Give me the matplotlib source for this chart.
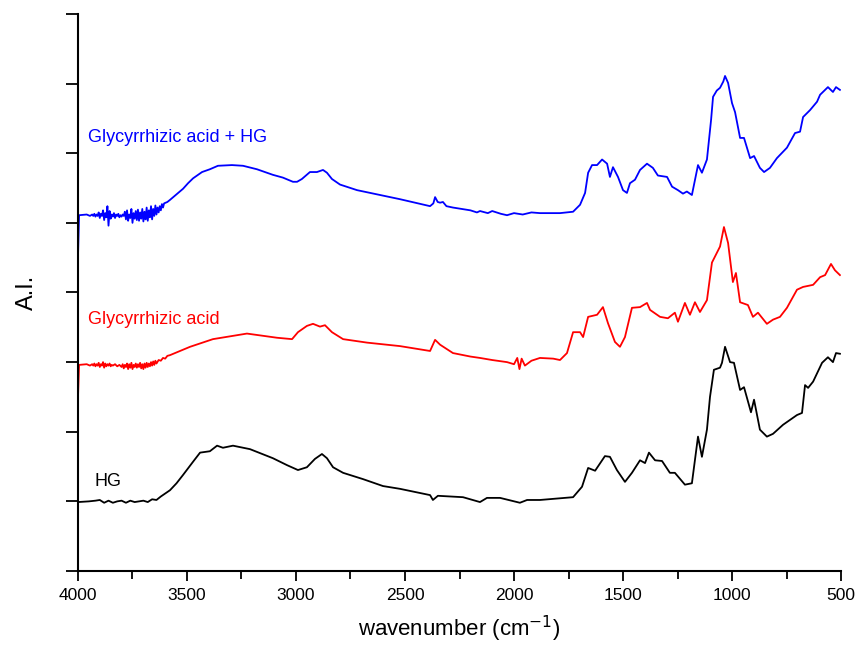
import matplotlib
matplotlib.use("Agg")
import matplotlib.pyplot as plt
from matplotlib.ticker import MultipleLocator

plt.rcParams['font.family'] = ['Liberation Sans', 'DejaVu Sans']

# FTIR spectra (offset vertically), wavenumber in cm^-1
wn_mix = [4000, 3995, 3960, 3945,
          3935, 3930, 3925, 3920, 3915, 3910, 3905, 3900, 3895, 3890,
          3885, 3880, 3875, 3870, 3865, 3860, 3855, 3850, 3845, 3840,
          3835, 3830, 3825, 3820, 3815, 3810, 3805, 3800, 3795, 3790,
          3785, 3780, 3775, 3770, 3765, 3760, 3755, 3750, 3745, 3740,
          3735, 3730, 3725, 3720, 3715, 3710, 3705, 3700, 3695, 3690,
          3685, 3680, 3675, 3670, 3665, 3660, 3655, 3650, 3645, 3640,
          3635, 3630, 3625, 3620, 3615, 3610, 3605,
          3590, 3578, 3548, 3518, 3495, 3472, 3431, 3395, 3358, 3294,
          3243, 3179, 3106, 3060, 3014, 2995, 2973, 2936, 2904, 2876,
          2858, 2835, 2798, 2720, 2628, 2523, 2440, 2385, 2370, 2362,
          2350, 2339, 2326, 2310, 2280, 2200, 2170, 2156, 2120, 2100,
          2060, 2032, 2000, 1960, 1920, 1881, 1789, 1729, 1697, 1674,
          1660, 1642, 1619, 1596, 1573, 1560, 1546, 1523, 1500, 1482,
          1468, 1445, 1422, 1390, 1363, 1340, 1298, 1275, 1248, 1225,
          1207, 1184, 1156, 1138, 1115, 1096, 1087, 1070, 1055, 1040,
          1032, 1018, 1000, 986, 963, 945, 917, 899, 872, 853,
          826, 794, 748, 711, 688, 674, 642, 610, 596, 560,
          537, 523, 505]
ab_mix = [4.51, 5.11, 5.12, 5.10,
          5.12, 5.10, 5.13, 5.09, 5.12, 5.10, 5.15, 5.07, 5.13, 5.10,
          5.18, 5.04, 5.14, 5.08, 5.24, 4.96, 5.17, 5.06, 5.12, 5.09,
          5.14, 5.07, 5.12, 5.10, 5.13, 5.08, 5.11, 5.09, 5.12, 5.10,
          5.16, 5.05, 5.18, 5.03, 5.12, 5.07, 5.20, 5.00, 5.14, 5.06,
          5.17, 5.04, 5.19, 5.03, 5.15, 5.06, 5.20, 5.02, 5.16, 5.05,
          5.22, 5.03, 5.18, 5.08, 5.24, 5.05, 5.20, 5.10, 5.25, 5.12,
          5.22, 5.15, 5.24, 5.18, 5.27, 5.22, 5.28,
          5.30, 5.33, 5.41, 5.49, 5.57, 5.64, 5.73, 5.77, 5.82, 5.83,
          5.82, 5.77, 5.69, 5.65, 5.59, 5.59, 5.63, 5.73, 5.73, 5.76,
          5.72, 5.63, 5.55, 5.47, 5.41, 5.34, 5.28, 5.24, 5.28, 5.37,
          5.30, 5.29, 5.30, 5.24, 5.22, 5.18, 5.15, 5.17, 5.14, 5.17,
          5.13, 5.11, 5.14, 5.12, 5.15, 5.14, 5.14, 5.16, 5.26, 5.43,
          5.72, 5.83, 5.83, 5.91, 5.85, 5.66, 5.80, 5.66, 5.47, 5.43,
          5.57, 5.62, 5.76, 5.85, 5.79, 5.68, 5.66, 5.52, 5.47, 5.42,
          5.45, 5.40, 5.83, 5.72, 5.91, 6.48, 6.81, 6.90, 6.94, 7.03,
          7.11, 7.01, 6.72, 6.59, 6.22, 6.22, 5.93, 5.96, 5.79, 5.73,
          5.79, 5.93, 6.08, 6.29, 6.31, 6.52, 6.62, 6.74, 6.84, 6.95,
          6.88, 6.95, 6.91]

wn_ga = [4000, 3995, 3960, 3945,
         3935, 3930, 3925, 3920, 3915, 3910, 3905, 3900, 3895, 3890,
         3885, 3880, 3875, 3870, 3865, 3860, 3855, 3850, 3845, 3840,
         3830, 3820, 3810, 3800, 3795, 3790, 3785, 3780, 3775, 3770,
         3765, 3760, 3755, 3750, 3745, 3740, 3735, 3730, 3725, 3720,
         3715, 3710, 3705, 3700, 3695, 3690, 3685, 3680, 3675, 3670,
         3665, 3660, 3655, 3650, 3645, 3640, 3630, 3620, 3610, 3600,
         3590, 3578, 3486, 3381, 3225, 3087, 3018, 2991, 2950, 2922,
         2890, 2867, 2835, 2784, 2674, 2523, 2385, 2362, 2339, 2280,
         2200, 2156, 2100, 2032, 2000, 1985, 1975, 1965, 1950, 1920,
         1881, 1820, 1789, 1757, 1729, 1697, 1683, 1660, 1619, 1592,
         1569, 1537, 1514, 1491, 1459, 1422, 1390, 1376, 1330, 1294,
         1262, 1248, 1216, 1193, 1170, 1147, 1115, 1092, 1055, 1037,
         1018, 996, 982, 963, 927, 904, 881, 840, 812, 780,
         748, 702, 674, 628, 596, 573, 546, 528, 505]
ab_ga = [2.49, 2.96, 2.97, 2.95,
         2.97, 2.95, 2.98, 2.94, 2.97, 2.95, 2.99, 2.93, 2.97, 2.95,
         3.00, 2.92, 2.98, 2.94, 2.97, 2.95, 2.98, 2.94, 2.96, 2.95,
         2.97, 2.94, 2.96, 2.93, 2.97, 2.91, 2.96, 2.93, 2.98, 2.90,
         2.97, 2.92, 2.99, 2.90, 2.96, 2.93, 2.98, 2.92, 2.97, 2.93,
         2.99, 2.91, 2.97, 2.90, 2.98, 2.92, 2.99, 2.93, 2.98, 2.94,
         3.00, 2.95, 3.01, 2.96, 3.02, 2.98, 3.03, 3.02, 3.06, 3.05,
         3.09, 3.10, 3.22, 3.33, 3.41, 3.35, 3.33, 3.43, 3.52, 3.55,
         3.51, 3.53, 3.43, 3.33, 3.28, 3.23, 3.16, 3.32, 3.25, 3.13,
         3.08, 3.06, 3.03, 3.00, 2.97, 3.06, 2.90, 3.05, 2.95, 3.02,
         3.06, 3.05, 3.03, 3.13, 3.43, 3.43, 3.36, 3.65, 3.68, 3.79,
         3.56, 3.29, 3.22, 3.36, 3.78, 3.79, 3.85, 3.75, 3.65, 3.63,
         3.71, 3.58, 3.85, 3.68, 3.86, 3.72, 3.89, 4.43, 4.66, 4.94,
         4.71, 4.15, 4.28, 3.86, 3.82, 3.65, 3.71, 3.55, 3.61, 3.65,
         3.78, 4.04, 4.08, 4.11, 4.22, 4.25, 4.41, 4.32, 4.25]

wn_hg = [4000, 3950, 3920, 3900, 3880, 3860, 3840, 3820, 3800, 3780,
         3760, 3740, 3720, 3700, 3680, 3660, 3640, 3620, 3578, 3548,
         3518, 3472, 3440, 3395, 3362, 3335, 3289, 3211, 3106, 3041,
         2991, 2950, 2913, 2881, 2858, 2830, 2784, 2693, 2601, 2523,
         2385, 2372, 2349, 2234, 2156, 2124, 2064, 1973, 1940, 1881,
         1729, 1688, 1660, 1628, 1583, 1560, 1528, 1491, 1459, 1422,
         1399, 1381, 1353, 1321, 1285, 1262, 1216, 1184, 1156, 1138,
         1115, 1101, 1083, 1055, 1046, 1032, 1009, 991, 963, 945,
         913, 899, 872, 840, 812, 766, 702, 679, 665, 651,
         628, 587, 560, 537, 523, 505]
ab_hg = [0.99, 1.00, 1.01, 1.02, 0.98, 1.01, 0.98, 1.00, 1.01, 0.98,
         1.01, 0.99, 1.00, 1.01, 0.99, 1.03, 1.02, 1.07, 1.16, 1.26,
         1.38, 1.57, 1.70, 1.72, 1.80, 1.77, 1.80, 1.75, 1.62, 1.52,
         1.45, 1.49, 1.61, 1.68, 1.62, 1.49, 1.41, 1.32, 1.22, 1.18,
         1.09, 1.02, 1.08, 1.06, 0.99, 1.05, 1.05, 0.98, 1.02, 1.02,
         1.06, 1.21, 1.48, 1.44, 1.65, 1.64, 1.45, 1.28, 1.41, 1.59,
         1.55, 1.70, 1.59, 1.58, 1.41, 1.41, 1.24, 1.26, 1.93, 1.64,
         2.03, 2.50, 2.89, 2.92, 2.99, 3.22, 3.00, 2.99, 2.60, 2.64,
         2.28, 2.46, 2.03, 1.93, 1.97, 2.10, 2.24, 2.27, 2.67, 2.63,
         2.72, 2.99, 3.07, 3.00, 3.13, 3.12]

series = [
    (wn_mix, ab_mix, '#0000ff', 'Glycyrrhizic acid + HG', 6.22),
    (wn_ga, ab_ga, '#ff0000', 'Glycyrrhizic acid', 3.61),
    (wn_hg, ab_hg, '#000000', 'HG', 1.29),
]

fig = plt.figure(figsize=(8.56, 6.51), dpi=100)
ax = fig.add_axes([0.0911, 0.1229, 0.8914, 0.8556])

for wn, ab, color, name, ylab in series:
    ax.plot(wn, ab, color=color, lw=1.3, solid_joinstyle='round')
    x_lab = 3922 if name == 'HG' else 3955
    ax.text(x_lab, ylab, name, color=color, fontsize=13, ha='left', va='center')

ax.set_xlim(4000, 500)
ax.set_ylim(0, 8)
ax.xaxis.set_major_locator(MultipleLocator(500))
ax.xaxis.set_minor_locator(MultipleLocator(250))
ax.yaxis.set_major_locator(MultipleLocator(1))
ax.set_yticklabels([])

for side in ('top', 'right'):
    ax.spines[side].set_visible(False)
for side in ('left', 'bottom'):
    ax.spines[side].set_linewidth(1.5)

ax.tick_params(axis='x', which='major', direction='out', length=7, width=1.3,
               labelsize=12.5, pad=5)
ax.tick_params(axis='x', which='minor', direction='out', length=6, width=1.3)
ax.tick_params(axis='y', which='major', direction='out', length=9, width=1.3)

ax.set_xlabel('wavenumber (cm$^{-1}$)', fontsize=16, labelpad=8)
ax.set_ylabel('A.I.', fontsize=17, labelpad=16)

fig.savefig('out.png', dpi=100)
